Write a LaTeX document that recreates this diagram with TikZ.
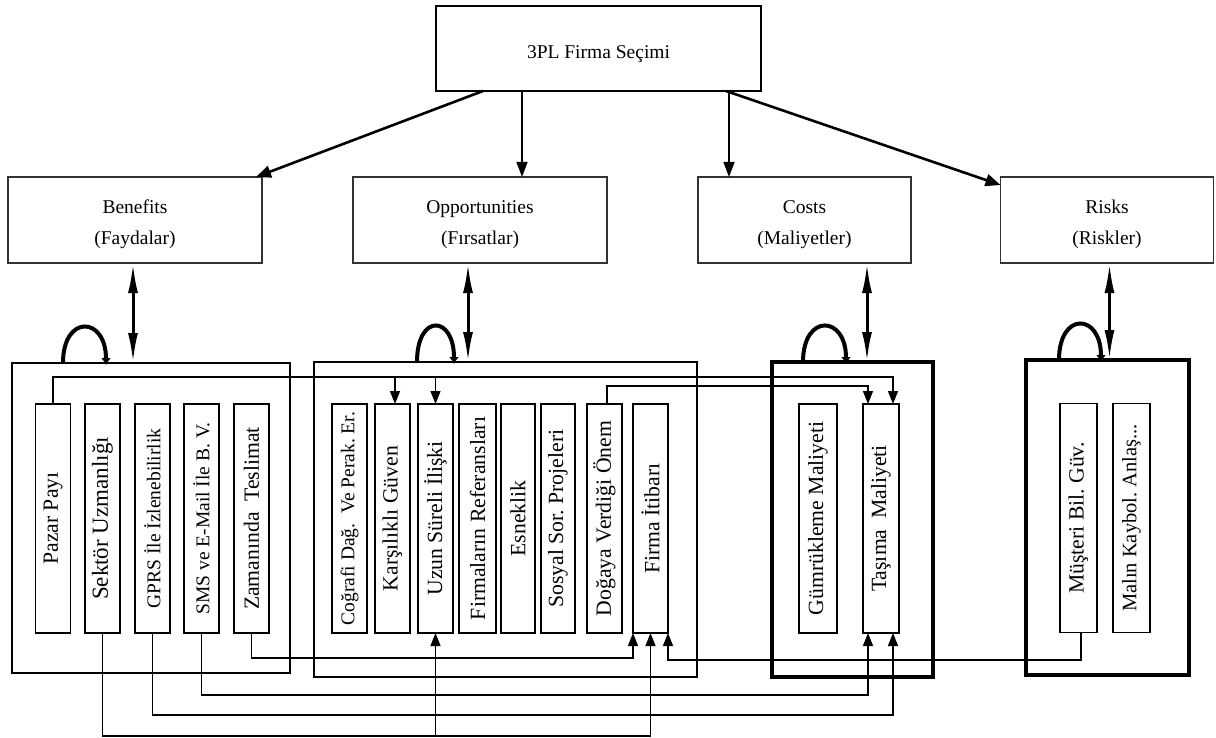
\documentclass[tikz,border=0pt]{standalone}
\usepackage{fontspec}
\setmainfont{Liberation Serif}
\usetikzlibrary{arrows.meta}

% two-line caption, set a little below the middle of its box
\newcommand\captionpair[2]{\raisebox{-3pt}[\height][\depth]{\begin{tabular}{@{}c@{}}#1\\#2\end{tabular}}}

\begin{document}
\begin{tikzpicture}[x=1pt,y=-1pt,
  every node/.style={inner sep=0pt, outer sep=0pt},
  goalbox/.style={draw, line width=1.1pt, minimum width=325pt, minimum height=85pt,
    font=\fontsize{19.5}{23}\selectfont},
  catbox/.style={draw=black!80, line width=1.4pt, minimum height=86pt,
    font=\fontsize{19.5}{31}\selectfont},
  clusterbox/.style={draw, line width=2.6pt},
  heavybox/.style={draw, line width=4pt},
  itembox/.style={draw, line width=1.3pt, minimum width=35pt, minimum height=229pt,
    font=\fontsize{21.7}{25}\selectfont},
  smalltext/.style={font=\fontsize{19.5}{23}\selectfont},
  widetext/.style={font=\fontsize{23}{26}\selectfont},
  link/.style={line width=1.2pt, -{Triangle[length=13pt,width=10pt]}},
  thinlead/.style={line width=1.4pt, -{Triangle[length=15pt,width=11pt]}},
  thicklead/.style={line width=2.6pt, -{Triangle[length=15pt,width=12pt]}},
  twoway/.style={line width=3pt, {Latex[length=30pt,width=10pt]}-{Latex[length=30pt,width=10pt]}},
  selfloop/.style={line width=4pt, -{Latex[length=7pt,width=10pt]}},
]
\useasboundingbox (0,0) rectangle (1216,738);

% goal and the four criteria
\node[goalbox] (goal) at (598.5,48.5) {\raisebox{-6pt}[\height][\depth]{3PL Firma Seçimi}};
\node[catbox, minimum width=254pt] (ben)  at (135,220)    {\captionpair{Benefits}{(Faydalar)}};
\node[catbox, minimum width=254pt] (opp)  at (480,220)    {\captionpair{Opportunities}{(Fırsatlar)}};
\node[catbox, minimum width=213pt] (cost) at (804.5,220)  {\captionpair{Costs}{(Maliyetler)}};
\node[catbox, minimum width=213pt] (risk) at (1107,220)   {\captionpair{Risks}{(Riskler)}};

% clusters
\node[clusterbox, minimum width=278pt, minimum height=310pt] (bclus) at (151,518)    {};
\node[clusterbox, minimum width=383pt, minimum height=315pt] (oclus) at (505.5,519.5) {};
\node[heavybox,   minimum width=161pt, minimum height=315pt] (cclus) at (852.5,519.5) {};
\node[heavybox,   minimum width=163pt, minimum height=315pt] (rclus) at (1107.5,517.5) {};

% benefits sub-criteria
\node[itembox] (pazar)  at (53,518.5)    {\rotatebox{90}{Pazar Payı}};
\node[itembox, widetext]  (sektor) at (102.5,518.5) {\rotatebox{90}{Sektör Uzmanlığı}};
\node[itembox, smalltext] (gprs)   at (152.5,518.5) {\rotatebox{90}{GPRS İle İzlenebilirlik}};
\node[itembox, smalltext] (sms)    at (201.5,518.5) {\rotatebox{90}{SMS ve E-Mail İle B. V.}};
\node[itembox] (zaman)  at (251.5,518.5) {\rotatebox{90}{Zamanında\ \ Teslimat}};

% opportunities sub-criteria
\node[itembox, smalltext] (cog) at (349.5,518.5) {\rotatebox{90}{Coğrafi Dağ.\ \ Ve Perak.\ Er.}};
\node[itembox] (kars)   at (392.5,518.5) {\rotatebox{90}{Karşılıklı Güven}};
\node[itembox] (uzun)   at (435.5,518.5) {\rotatebox{90}{Uzun Süreli İlişki}};
\node[itembox, minimum width=37pt] (ref) at (477.5,518.5) {\rotatebox{90}{Firmaların Referansları}};
\node[itembox, minimum width=34pt] (esn) at (518,518.5)   {\rotatebox{90}{Esneklik}};
\node[itembox, minimum width=34pt] (sos) at (558,518.5)   {\rotatebox{90}{Sosyal Sor.\ Projeleri}};
\node[itembox] (doga)   at (604.5,518.5) {\rotatebox{90}{Doğaya Verdiği Önem}};
\node[itembox] (itibar) at (650.5,518.5) {\rotatebox{90}{Firma İtibarı}};

% cost sub-criteria
\node[itembox, minimum width=38pt] (gumruk) at (818,518.5) {\rotatebox{90}{Gümrükleme Maliyeti}};
\node[itembox, minimum width=36pt] (tasima) at (881,518.5) {\rotatebox{90}{Taşıma\ \ Maliyeti}};

% risk sub-criteria
\node[itembox, minimum width=37pt] (must)  at (1078.5,518) {\rotatebox{90}{Müşteri Bil.\ Güv.}};
\node[itembox, minimum width=37pt, font=\fontsize{20.5}{24}\selectfont] (malin) at (1131.5,518) {\rotatebox{90}{Malın Kaybol.\ Anlaş...}};

% goal to criteria
\draw[thicklead] ([xshift=-115.5pt]goal.south) -- ([xshift=-6pt]ben.north east);
\draw[thinlead]  ([xshift=-76.5pt]goal.south) -- ([xshift=-76.5pt]goal.south |- opp.north);
\draw[thinlead]  ([xshift=130.5pt]goal.south) -- ([xshift=130.5pt]goal.south |- cost.north);
\draw[thicklead] ([xshift=127.5pt]goal.south) -- ([yshift=-8pt]risk.north west);

% criteria to clusters
\draw[twoway] ([xshift=-2pt]ben.south)    -- ([xshift=-2pt]ben.south |- bclus.north);
\draw[twoway] ([xshift=-12pt]opp.south)   -- ([xshift=-12pt]opp.south |- oclus.north);
\draw[twoway] ([xshift=62.5pt]cost.south) -- ([xshift=62.5pt]cost.south |- cclus.north);
\draw[twoway] ([xshift=2.5pt]risk.south)  -- ([xshift=2.5pt]risk.south |- rclus.north);

% inner dependence loops
\draw[selfloop] ([xshift=51pt]bclus.north west)  .. controls +(0,-49) and +(0,-49) .. ([xshift=94pt,yshift=-2pt]bclus.north west);
\draw[selfloop] ([xshift=103pt]oclus.north west) .. controls +(0,-49) and +(0,-49) .. ([xshift=140pt,yshift=-2pt]oclus.north west);
\draw[selfloop] ([xshift=31pt]cclus.north west)  .. controls +(0,-49) and +(0,-49) .. ([xshift=74pt,yshift=-2pt]cclus.north west);
\draw[selfloop] ([xshift=33pt]rclus.north west)  .. controls +(0,-49) and +(0,-49) .. ([xshift=75pt,yshift=-2pt]rclus.north west);

% routing levels
\coordinate (railA) at (0,377);
\coordinate (railB) at (0,386);
\coordinate (railZ) at (0,658);
\coordinate (railM) at (0,660);
\coordinate (railS) at (0,695);
\coordinate (railG) at (0,715);
\coordinate (railK) at (0,736);

% upper links
\draw[link] (pazar.north) |- ([xshift=12pt]tasima.north |- railA) -- ([xshift=12pt]tasima.north);
\draw[link] ([xshift=2.5pt]kars.north |- railA) -- ([xshift=2.5pt]kars.north);
\draw[link] (uzun.north |- railA) -- (uzun.north);
\draw[link] ([xshift=2.5pt]doga.north) |- ([xshift=-13pt]tasima.north |- railB) -- ([xshift=-13pt]tasima.north);

% lower links
\draw[link] (zaman.south) |- (itibar.south west |- railZ) -- (itibar.south west);
\draw[link] ([xshift=2.5pt]must.south) |- (itibar.south east |- railM) -- (itibar.south east);
\draw[link] (sms.south) |- ([xshift=-13pt]tasima.south |- railS) -- ([xshift=-13pt]tasima.south);
\draw[link] (gprs.south) |- ([xshift=12pt]tasima.south |- railG) -- ([xshift=12pt]tasima.south);
\draw[link] (sektor.south) |- (itibar.south |- railK) -- (itibar.south);
\draw[link] (uzun.south |- railK) -- (uzun.south);
\end{tikzpicture}
\end{document}
